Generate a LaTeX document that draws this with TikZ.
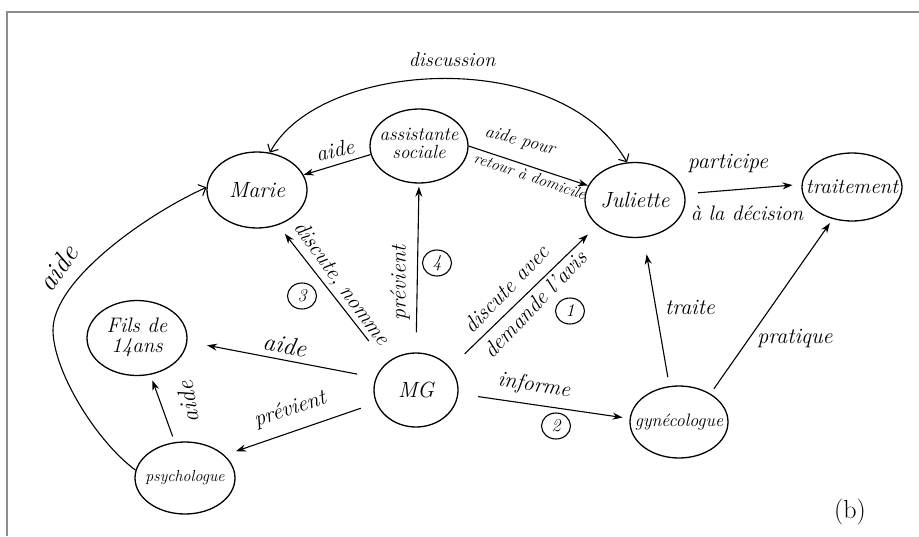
\documentclass[tikz,border=0pt]{standalone}
\usepackage{fontspec}
\usetikzlibrary{shapes.geometric,arrows.meta}
\newcommand\hw[1]{\fontsize{#1}{#1}\selectfont\itshape}
\newcommand\zb[1]{\makebox[0pt]{#1}}
\tikzset{
  person/.style={draw, ellipse, line width=1.3pt, inner sep=0pt, font=\hw{20}},
  lab/.style={inner sep=1pt, font=\hw{22}},
  arr/.style={line width=1.1pt, -{Stealth[length=10pt,width=7pt]}},
  barb/.style={line width=1.1pt, -{Straight Barb[length=6pt,width=12pt]}},
  num/.style={draw, ellipse, line width=1.1pt, minimum width=29pt, minimum height=26pt, inner sep=0pt, font=\hw{18}},
}
\begin{document}
\begin{tikzpicture}[x=1pt,y=-1pt]
\useasboundingbox[fill=white] (0,0) rectangle (919,536);
\draw[line width=1.5pt, black!45] (7,536) -- (7,12) -- (919,12);

% nodes
\node[person, minimum width=100pt, minimum height=76pt, font=\hw{22}] (marie) at (257,190) {\zb{Marie}};
\node[person, minimum width=98pt, minimum height=74pt, font=\fontsize{19}{18}\selectfont\itshape] (as) at (419,146) {\zb{\begin{tabular}{@{}c@{}}assistante\\sociale\end{tabular}}};
\node[person, minimum width=100pt, minimum height=75pt, font=\hw{22}] (jul) at (635,200) {\zb{Juliette}};
\node[person, minimum width=100pt, minimum height=68pt, font=\hw{21}] (trait) at (852,187) {\zb{traitement}};
\node[person, minimum width=100pt, minimum height=75pt, font=\fontsize{21}{20}\selectfont\itshape] (fils) at (137,338) {\zb{\begin{tabular}{@{}c@{}}Fils de\\14ans\end{tabular}}};
\node[person, minimum width=84pt, minimum height=74pt, font=\hw{22}] (mg) at (416,390) {\zb{MG}};
\node[person, minimum width=100pt, minimum height=72pt, font=\hw{16}] (psy) at (185,478) {\zb{psychologue}};
\node[person, minimum width=98pt, minimum height=72pt, font=\hw{18}] (gyn) at (679,422) {\zb{gynécologue}};

% discussion
\draw[barb, {Straight Barb[length=6pt,width=12pt]}-{Straight Barb[length=6pt,width=12pt]}] (marie.71) .. controls (320,60) and (560,45) .. (jul.102);
\node[lab, font=\hw{20}] (ldisc) at (452,60) {discussion};

% assistante -> Marie
\draw[arr] (as.190) -- (marie.18);
\node[lab, rotate=12] (laide1) at (335,150) {aide};

% assistante -> Juliette
\draw[arr] (as.0) -- (jul.163);
\node[lab, rotate=-15, font=\hw{18}] (lpour) at (520,141) {aide pour};
\node[lab, rotate=-19, font=\hw{16}] (lretour) at (530,176) {retour à domicile};

% Juliette -> traitement
\draw[arr, shorten <=13pt, shorten >=9pt] (jul.7) -- (trait.177);
\node[lab] (lpart) at (728,163) {participe};
\node[lab, font=\hw{21}] (ldec) at (747,213) {à la décision};

% MG -> Marie
\draw[arr, shorten <=28pt, shorten >=11pt] (mg.138) -- (marie.-59);
\node[lab, rotate=-54] (ldn) at (341,284) {discute, nomme};
\node[num] (n3) at (302,296) {3};

% MG -> assistante
\draw[arr, shorten <=20pt, shorten >=3pt] (mg.north) -- (as.south);
\node[lab, rotate=90] (lprev1) at (400,283) {prévient};
\node[num] (n4) at (437,263) {4};

% MG -> Juliette
\draw[arr, shorten <=20pt, shorten >=13pt] (mg.33) -- (jul.-146);
\node[lab, rotate=46] (ldav) at (506,289) {discute avec};
\node[lab, rotate=46] (lda) at (535,304) {demande l'avis};
\node[num] (n1) at (570,311) {1};

% MG -> gynecologue
\draw[arr, shorten <=20pt, shorten >=7pt] (mg.-5) -- (gyn.176);
\node[lab, rotate=-9] (linf) at (534,386) {informe};
\node[num] (n2) at (556,426) {2};

% gynecologue -> Juliette
\draw[arr, shorten <=9pt, shorten >=17pt] (gyn.105) -- (jul.-77);
\node[lab] (ltr) at (690,307) {traite};

% gynecologue -> traitement
\draw[arr, shorten <=6pt, shorten >=5pt] (gyn.42) -- (trait.-121);
\node[lab] (lpra) at (795,338) {pratique};

% MG -> Fils
\draw[arr, shorten <=19pt, shorten >=20pt] (mg.163) -- (fils.-4);
\node[lab, rotate=-10, font=\hw{25}] (laide2) at (285,345) {aide};

% MG -> psychologue
\draw[arr, shorten <=16pt, shorten >=12pt] (mg.198) -- (psy.30);
\node[lab, rotate=18] (lprev2) at (290,410) {prévient};

% psychologue -> Fils
\draw[arr, shorten <=6pt, shorten >=6pt] (psy.106) -- (fils.-70);
\node[lab, rotate=100, font=\hw{24}] (laide3) at (188,402) {aide};

% psychologue -> Marie
\coordinate (bend) at (53,330);
\draw[barb] (psy.171) .. controls (95,440) and (53,370) .. (bend) .. controls (53,280) and (147,214) .. (marie.177);
\node[lab, rotate=55, font=\hw{28}] (laide4) at (58,268) {aide};

\node[font=\fontsize{26}{26}\selectfont] (b) at (850,512) {(b)};
\end{tikzpicture}
\end{document}
